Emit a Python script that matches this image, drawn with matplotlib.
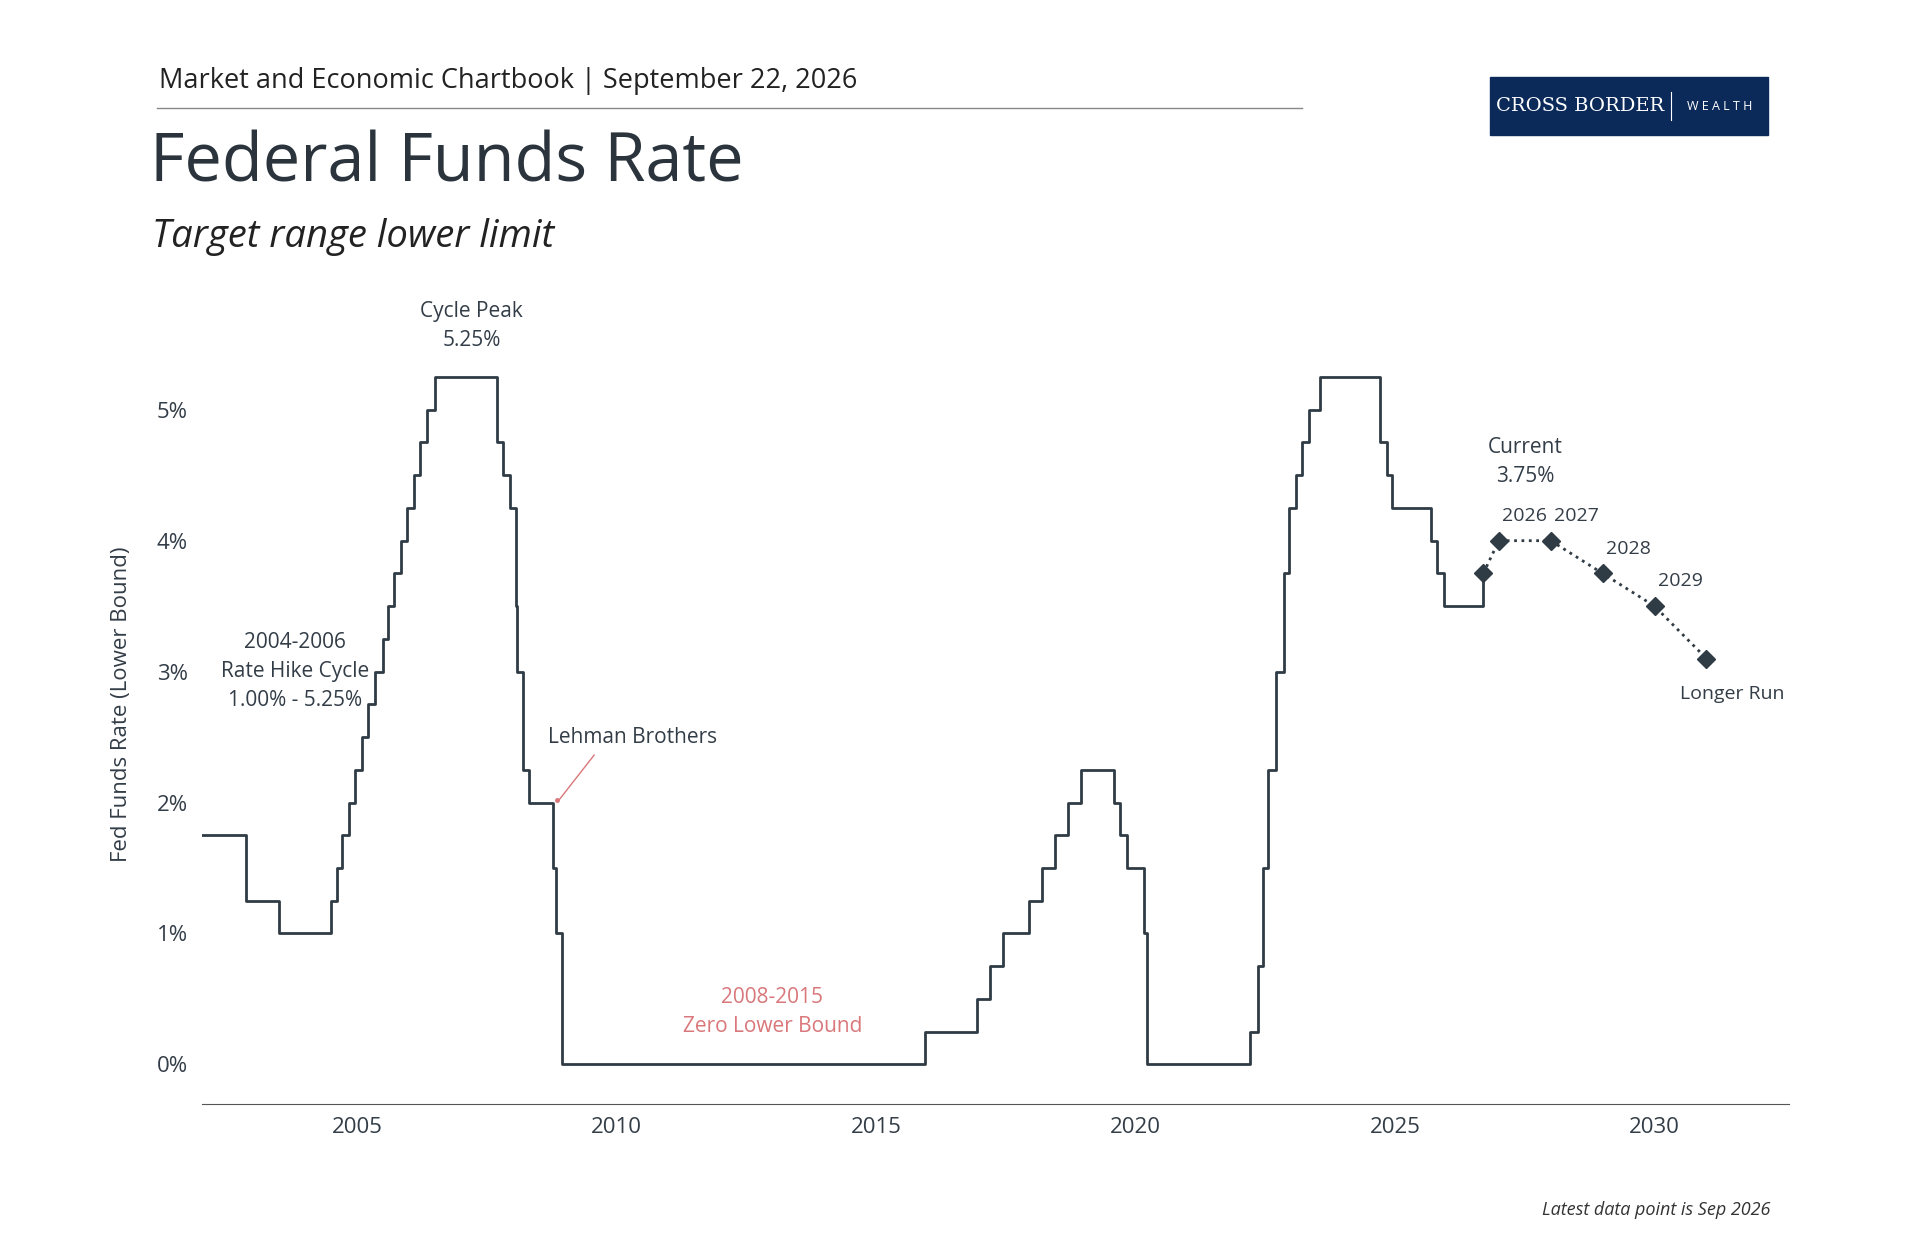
import matplotlib.pyplot as plt
from matplotlib.patches import Rectangle

plt.rcParams['font.family'] = ['Open Sans', 'DejaVu Sans']

### data: step changes (decimal year, lower bound %)
dates = [2002.0, 2002.85, 2003.5, 2004.5, 2004.6, 2004.7, 2004.85, 2004.95, 2005.1, 2005.2,
         2005.35, 2005.5, 2005.6, 2005.7, 2005.85, 2005.95, 2006.1, 2006.2, 2006.35, 2006.5,
         2007.7, 2007.8, 2007.95, 2008.05, 2008.08, 2008.2, 2008.3, 2008.78, 2008.83, 2008.95,
         2015.95, 2016.95, 2017.2, 2017.45, 2017.95, 2018.2, 2018.45, 2018.7, 2018.95,
         2019.58, 2019.7, 2019.83, 2020.17, 2020.21,
         2022.2, 2022.35, 2022.45, 2022.55, 2022.7, 2022.85, 2022.95, 2023.1, 2023.2, 2023.35, 2023.55,
         2024.7, 2024.85, 2024.95, 2025.7, 2025.8, 2025.95, 2026.7]
rates = [1.75, 1.25, 1.0, 1.25, 1.5, 1.75, 2.0, 2.25, 2.5, 2.75,
         3.0, 3.25, 3.5, 3.75, 4.0, 4.25, 4.5, 4.75, 5.0, 5.25,
         4.75, 4.5, 4.25, 3.5, 3.0, 2.25, 2.0, 1.5, 1.0, 0.0,
         0.25, 0.5, 0.75, 1.0, 1.25, 1.5, 1.75, 2.0, 2.25,
         2.0, 1.75, 1.5, 1.0, 0.0,
         0.25, 0.75, 1.5, 2.25, 3.0, 3.75, 4.25, 4.5, 4.75, 5.0, 5.25,
         4.75, 4.5, 4.25, 4.0, 3.75, 3.5, 3.75]

proj_x = [2026.7, 2027.0, 2028.0, 2029.0, 2030.0, 2031.0]
proj_y = [3.75, 4.0, 4.0, 3.75, 3.5, 3.1]
proj_labels = ["", "2026", "2027", "2028", "2029", "Longer Run"]

xticks = [2005, 2010, 2015, 2020, 2025, 2030]
yticks = [0, 1, 2, 3, 4, 5]

dark = '#2f3b45'
txt = '#333d47'
red = '#d9777a'

fig = plt.figure(figsize=(19.2, 12.4), dpi=100)
ax = fig.add_axes([0.105, 0.11, 0.827, 0.644])

ax.step(dates, rates, where='post', color=dark, lw=2)
ax.plot(proj_x, proj_y, ':', color=dark, lw=2)
ax.plot(proj_x, proj_y, 'D', color=dark, ms=9, ls='none')
for x, y, l in zip(proj_x, proj_y, proj_labels):
    if l == "Longer Run":
        ax.text(x + 0.5, y - 0.2, l, ha='center', va='top', fontsize=14, color=txt)
    elif l:
        ax.text(x + 0.5, y + 0.12, l, ha='center', va='bottom', fontsize=14, color=txt)

ax.text(2007.2, 5.45, "Cycle Peak\n5.25%", ha='center', va='bottom', fontsize=15, color=txt, linespacing=1.5)
ax.text(2003.8, 3.0, "2004-2006\nRate Hike Cycle\n1.00% - 5.25%", ha='center', va='center', fontsize=15, color=txt, linespacing=1.5)
ax.text(2010.3, 2.5, "Lehman Brothers", ha='center', va='center', fontsize=15, color=txt)
ax.annotate("", xy=(2008.85, 2.0), xytext=(2009.6, 2.38),
            arrowprops=dict(arrowstyle='-', color=red, lw=1))
ax.plot([2008.85], [2.02], 'o', color=red, ms=2.5)
ax.text(2013.0, 0.4, "2008-2015\nZero Lower Bound", ha='center', va='center', fontsize=15, color=red, linespacing=1.5)
ax.text(2027.5, 4.6, "Current\n3.75%", ha='center', va='center', fontsize=15, color=txt, linespacing=1.5)

ax.set_xlim(2002.0, 2032.6)
ax.set_ylim(-0.3, 5.8)
ax.set_xticks(xticks)
ax.set_yticks(yticks)
ax.set_yticklabels([f"{v}%" for v in yticks])
ax.tick_params(length=0, labelsize=16, colors=txt, pad=10)
for s in ['top', 'right', 'left']:
    ax.spines[s].set_visible(False)
ax.spines['bottom'].set_color('#555555')
ax.set_ylabel("Fed Funds Rate (Lower Bound)", fontsize=16, color=txt, labelpad=18)

### header
fig.text(0.083, 0.935, "Market and Economic Chartbook | September 22, 2026", fontsize=19.5, color='#222222', va='center')
fig.add_artist(plt.Line2D([0.082, 0.678], [0.913, 0.913], color='#888888', lw=1))
fig.text(0.078, 0.868, "Federal Funds Rate", fontsize=48, color='#2b343c', va='center')
fig.text(0.079, 0.809, "Target range lower limit", fontsize=27.5, style='italic', color='#222222', va='center')
fig.add_artist(Rectangle((0.776, 0.891), 0.145, 0.047, transform=fig.transFigure, color='#0b2a5a'))
fig.text(0.823, 0.9145, "CROSS BORDER", fontsize=14, family='DejaVu Serif', color='white', ha='center', va='center')
fig.add_artist(plt.Line2D([0.8705, 0.8705], [0.903, 0.926], color='white', lw=0.8))
fig.text(0.8955, 0.9145, "W E A L T H", fontsize=9, color='white', ha='center', va='center')
fig.text(0.922, 0.024, "Latest data point is Sep 2026", fontsize=13, style='italic', color='#333333', ha='right', va='center')

plt.savefig("out.png")
